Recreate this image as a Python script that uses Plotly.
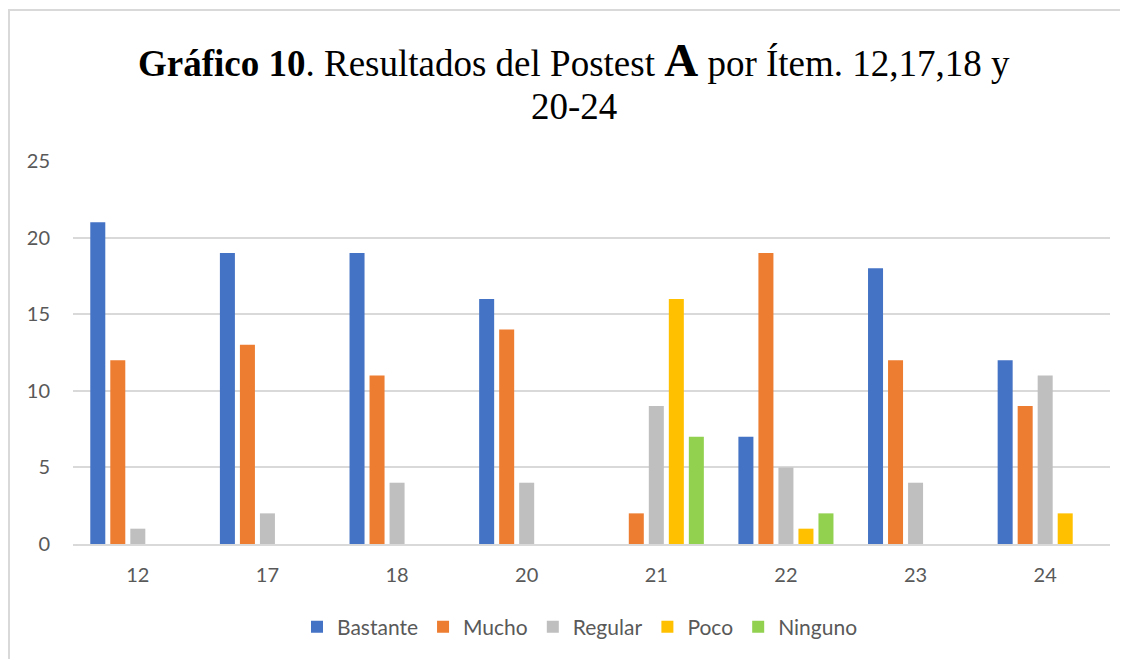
import plotly.graph_objects as go

items = ["12", "17", "18", "20", "21", "22", "23", "24"]
bastante = [21, 19, 19, 16, 0, 7, 18, 12]
mucho = [12, 13, 11, 14, 2, 19, 12, 9]
regular = [1, 2, 4, 4, 9, 5, 4, 11]
poco = [0, 0, 0, 0, 16, 1, 0, 2]
ninguno = [0, 0, 0, 0, 7, 2, 0, 0]

series = [
    ("Bastante", bastante, "#4472C4"),
    ("Mucho", mucho, "#ED7D31"),
    ("Regular", regular, "#BFBFBF"),
    ("Poco", poco, "#FFC000"),
    ("Ninguno", ninguno, "#92D050"),
]

OFF = 8  # page body margin offset
W, H = 1128 - OFF, 659 - OFF
L, R, T, B = 73 - OFF, 18, 161 - OFF, 115
pw, ph = W - L - R, H - T - B

def px(x):
    return (x - OFF - L) / pw

def py(y):
    return (H - B - (y - OFF)) / ph

fig = go.Figure()
for name, vals, col in series:
    fig.add_trace(go.Bar(x=items, y=vals, name=name, marker=dict(color=col, line=dict(width=0))))

axfont = dict(family="Lato, 'Noto Sans', sans-serif", size=20, color="#595959")

fig.update_layout(
    width=W, height=H,
    margin=dict(l=L, r=R, t=T, b=B),
    paper_bgcolor="white", plot_bgcolor="white",
    barmode="group", bargap=0.228, bargroupgap=0.25,
    showlegend=True,
    legend=dict(orientation="h", x=px(580), xanchor="center", y=py(627), yanchor="middle",
                font=dict(family="Lato, 'Noto Sans', sans-serif", size=21, color="#595959"),
                itemwidth=30, traceorder="normal"),
    xaxis=dict(type="category", showgrid=False, showline=True, linecolor="#D9D9D9", linewidth=1.5,
               tickfont=axfont, ticks="", ticklabelstandoff=12),
    yaxis=dict(range=[0, 25], dtick=5, showgrid=True, gridcolor="#D9D9D9", gridwidth=1.5,
               zeroline=False, showline=False, tickfont=axfont, ticks="", ticklabelstandoff=22),
    font=dict(family="Lato, sans-serif"),
)

title_font = dict(family="'Liberation Serif', 'Times New Roman', serif", size=37, color="black")
fig.add_annotation(
    text="<b>Gráfico 10</b>. Resultados del Postest <b><span style='font-size:47px'>A</span></b> por Ítem. 12,17,18 y",
    xref="paper", yref="paper", x=px(574), y=py(78), xanchor="center", yanchor="bottom",
    showarrow=False, font=title_font, yshift=-10,
)
fig.add_annotation(
    text="20-24",
    xref="paper", yref="paper", x=px(574), y=py(119), xanchor="center", yanchor="bottom",
    showarrow=False, font=title_font, yshift=-10,
)

fig.add_shape(type="rect", xref="paper", yref="paper",
              x0=px(9), x1=px(1200), y0=py(10), y1=py(700),
              line=dict(color="#D9D9D9", width=2), fillcolor="rgba(0,0,0,0)", layer="below")

fig.write_html("out.html")
